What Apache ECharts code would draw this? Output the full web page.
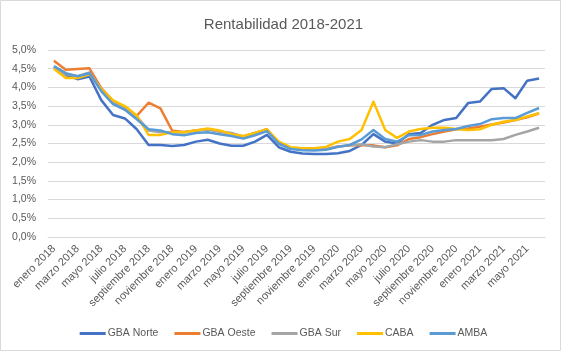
<!DOCTYPE html>
<html><head><meta charset="utf-8">
<script src="https://cdn.jsdelivr.net/npm/echarts@6/dist/echarts.min.js"></script>
<style>html,body{margin:0;padding:0;background:#fff;}#c{width:567px;height:357px;}</style>
</head><body><div id="c"></div>
<script>
var months = ['enero','febrero','marzo','abril','mayo','junio','julio','agosto','septiembre','octubre','noviembre','diciembre'];
var categories = [];
for (var y = 2018; y <= 2021; y++) { for (var m = 0; m < 12; m++) { if (y === 2021 && m > 5) break; categories.push(months[m] + ' ' + y); } }

var yTicks = [0,0.5,1,1.5,2,2.5,3,3.5,4,4.5,5];

var gbaNorte = [4.55,4.33,4.22,4.29,3.66,3.26,3.17,2.88,2.46,2.46,2.43,2.46,2.55,2.60,2.50,2.44,2.44,2.55,2.73,2.40,2.28,2.23,2.22,2.22,2.24,2.30,2.46,2.75,2.55,2.50,2.75,2.78,3.00,3.13,3.18,3.58,3.62,3.96,3.98,3.71,4.18,4.24];
var gbaOeste = [4.71,4.47,4.49,4.51,3.98,3.64,3.45,3.24,3.59,3.44,2.84,2.81,2.85,2.88,2.82,2.77,2.68,2.78,2.88,2.50,2.38,2.33,2.33,2.35,2.42,2.45,2.45,2.45,2.40,2.45,2.62,2.67,2.75,2.82,2.88,2.90,2.95,3.01,3.06,3.13,3.20,3.31];
var gbaSur = [4.50,4.35,4.30,4.40,3.95,3.60,3.45,3.22,2.85,2.80,2.80,2.80,2.85,2.88,2.82,2.78,2.68,2.78,2.87,2.50,2.38,2.33,2.33,2.35,2.42,2.45,2.48,2.42,2.40,2.48,2.55,2.59,2.55,2.55,2.59,2.59,2.59,2.59,2.62,2.73,2.82,2.92];
var caba = [4.50,4.25,4.25,4.35,3.95,3.65,3.50,3.25,2.73,2.73,2.80,2.80,2.85,2.90,2.85,2.75,2.70,2.78,2.88,2.55,2.40,2.37,2.37,2.41,2.55,2.62,2.86,3.62,2.86,2.65,2.82,2.89,2.92,2.92,2.89,2.86,2.88,3.00,3.08,3.13,3.22,3.31];
var amba = [4.57,4.38,4.30,4.38,3.90,3.55,3.40,3.15,2.88,2.85,2.75,2.72,2.78,2.80,2.75,2.70,2.63,2.72,2.83,2.50,2.35,2.32,2.31,2.33,2.41,2.46,2.61,2.86,2.62,2.55,2.72,2.73,2.82,2.86,2.89,2.97,3.02,3.15,3.18,3.18,3.32,3.45];

var names = ['GBA Norte','GBA Oeste','GBA Sur','CABA','AMBA'];
var colors = ['#4472C4','#ED7D31','#A5A5A5','#FFC000','#5B9BD5'];
var datas = [gbaNorte, gbaOeste, gbaSur, caba, amba];

var txt = '#595959';
var ff = 'Liberation Sans, Arial, sans-serif';
var chart = echarts.init(document.getElementById('c'));
chart.setOption({
  animation: false,
  color: colors,
  title: { text: 'Rentabilidad 2018-2021', left: 'center', top: 12, textStyle: { color: txt, fontSize: 15, fontWeight: 'normal', fontFamily: ff } },
  grid: { left: 48, right: 22, top: 50, bottom: 120 },
  legend: {
    bottom: 13, left: 'center', itemGap: 16, itemWidth: 26, itemHeight: 3, icon: 'rect',
    textStyle: { color: txt, fontSize: 10.5, fontFamily: ff, padding: [0,0,0,-3] },
    data: names
  },
  xAxis: {
    type: 'category', data: categories, boundaryGap: true,
    axisLine: { lineStyle: { color: '#d9d9d9' } }, axisTick: { show: false },
    axisLabel: { interval: 1, rotate: 45, color: txt, fontSize: 11, fontFamily: ff, margin: 10 }
  },
  yAxis: {
    type: 'value', min: yTicks[0], max: yTicks[yTicks.length-1], interval: 0.5,
    axisLine: { show: false }, axisTick: { show: false },
    splitLine: { lineStyle: { color: '#d9d9d9' } },
    axisLabel: { color: txt, fontSize: 10.5, fontFamily: ff, margin: 12, formatter: function (v) { return v.toFixed(1).replace('.', ',') + '%'; } }
  },
  series: datas.map(function (d, i) {
    return { name: names[i], type: 'line', data: d, symbol: 'none', lineStyle: { width: 2.5, color: colors[i], join: 'round' }, itemStyle: { color: colors[i] } };
  }),
  graphic: [{ type: 'rect', shape: { x: 0.5, y: 0.5, width: 560, height: 350 }, style: { fill: 'none', stroke: '#d9d9d9', lineWidth: 1 }, silent: true }]
});
</script></body></html>
